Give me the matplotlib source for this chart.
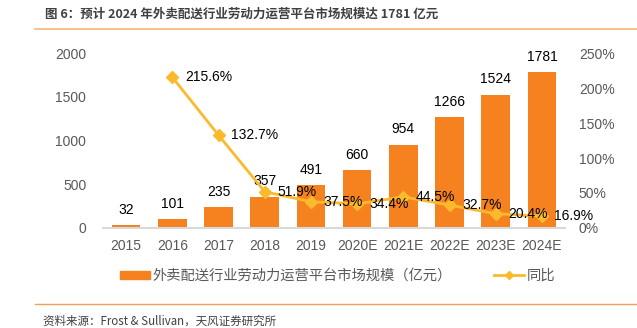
import matplotlib
matplotlib.use("Agg")
import matplotlib.pyplot as plt
from matplotlib.lines import Line2D
from matplotlib.patches import Patch

years = ["2015", "2016", "2017", "2018", "2019", "2020E", "2021E", "2022E", "2023E", "2024E"]
market = [32, 101, 235, 357, 491, 660, 954, 1266, 1524, 1781]
growth_years = years[1:]
growth = [215.6, 132.7, 51.9, 37.5, 34.4, 44.5, 32.7, 20.4, 16.9]
left_ticks = [0, 500, 1000, 1500, 2000]
right_ticks = [0, 50, 100, 150, 200, 250]

FAM = ["Liberation Sans", "Noto Sans CJK SC", "DejaVu Sans"]
CJK = ["Noto Sans CJK SC", "DejaVu Sans"]
plt.rcParams["font.family"] = FAM

bar_c = "#F5821F"
line_c = "#FBBA2B"
tick_c = "#595959"

W, H = 637, 328
fig = plt.figure(figsize=(6.37, 3.28), dpi=100)
ax = fig.add_axes([0.1617, 0.305, 0.7253, 0.533])
x = list(range(len(years)))
ax.bar(x, market, width=0.62, color=bar_c, zorder=2)
for xi, v in zip(x, market):
    ax.annotate(str(v), (xi, v), xytext=(0, 6), textcoords="offset points",
                ha="center", va="bottom", fontsize=10, color="black")
ax.set_xlim(-0.5, len(years) - 0.5)
ax.set_ylim(0, 2000)
ax.set_yticks(left_ticks)
ax.set_xticks(x)
ax.set_xticklabels(years)
ax.tick_params(axis="both", length=0, labelsize=10, labelcolor=tick_c)
ax.tick_params(axis="y", pad=12)
ax.tick_params(axis="x", pad=8)
for s in ["top", "right", "left"]:
    ax.spines[s].set_visible(False)
ax.spines["bottom"].set_color("#D9D9D9")
ax.spines["bottom"].set_linewidth(1.5)

ax2 = ax.twinx()
gx = [years.index(y) for y in growth_years]
ax2.plot(gx, growth, color=line_c, lw=2, marker="D", ms=6, zorder=3)
for xi, v in zip(gx, growth):
    ax2.annotate(f"{v}%", (xi, v), xytext=(9, 0), textcoords="offset points",
                 ha="left", va="center", fontsize=10, color="black")
ax2.set_ylim(0, 250)
ax2.set_yticks(right_ticks)
ax2.set_yticklabels([f"{t}%" for t in right_ticks])
ax2.tick_params(axis="y", length=0, labelsize=10, labelcolor=tick_c, pad=10)
for s in ["top", "right", "left", "bottom"]:
    ax2.spines[s].set_visible(False)

handles = [Patch(color=bar_c), Line2D([], [], color=line_c, lw=2, marker="D", ms=4.5)]
labels = ["外卖配送行业劳动力运营平台市场规模（亿元）", "同比"]
leg = fig.legend(handles, labels, loc="center left", bbox_to_anchor=(120 / W, 1 - 276 / H),
                 ncol=2, frameon=False, prop={"family": CJK, "size": 10.3},
                 handlelength=2.1, handleheight=0.5, columnspacing=2.9, handletextpad=0.2,
                 borderpad=0, borderaxespad=0)
for t in leg.get_texts():
    t.set_color(tick_c)

fig.text(45 / W, 1 - 14 / H, "图 6：预计 2024 年外卖配送行业劳动力运营平台市场规模达 1781 亿元",
         family=CJK, fontsize=9, fontweight="bold", color="#404040", va="center")
fig.add_artist(Line2D([35 / W, 1], [1 - 28.5 / H] * 2, color="#F9B47A", lw=1.2))
fig.add_artist(Line2D([35 / W, 1], [1 - 304 / H] * 2, color="#F5A05A", lw=1.0))
fig.text(43 / W, 1 - 321 / H, "资料来源：Frost & Sullivan，天风证券研究所",
         family=CJK, fontsize=8.3, color="#404040", va="center")

fig.savefig("out.png", dpi=100)
